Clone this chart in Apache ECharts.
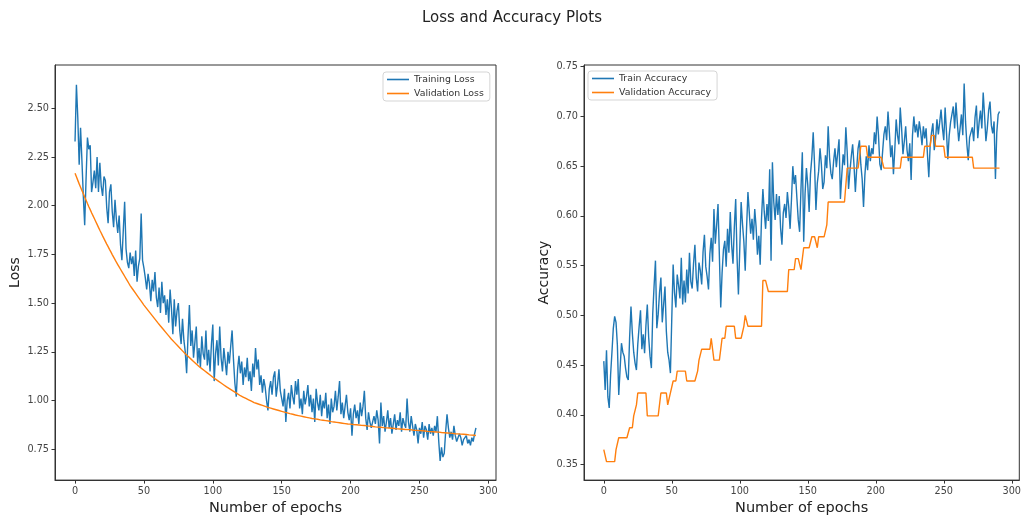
<!DOCTYPE html>
<html>
<head>
<meta charset="utf-8">
<script src="https://cdn.jsdelivr.net/npm/echarts@6/dist/echarts.min.js"></script>
<style>html,body{margin:0;padding:0;background:#fff}#c{width:1024px;height:521px}</style>
</head>
<body>
<div id="c"></div>
<script>
// ---- data (epochs 0..291) ----
const trainLoss = [
2.33,2.62,2.45,2.21,2.40,2.23,2.05,1.90,2.14,2.35,
2.29,2.31,2.07,2.12,2.18,2.09,2.25,2.07,2.22,2.10,
2.05,2.15,2.13,1.99,1.91,2.07,2.11,1.97,1.89,2.03,
1.93,1.86,1.95,1.80,1.72,1.87,2.02,1.78,1.71,1.68,
1.76,1.70,1.74,1.64,1.77,1.61,1.69,1.73,1.96,1.72,
1.68,1.63,1.57,1.65,1.60,1.51,1.62,1.56,1.66,1.53,
1.48,1.58,1.45,1.61,1.50,1.54,1.44,1.52,1.40,1.57,
1.47,1.34,1.52,1.38,1.46,1.50,1.36,1.29,1.42,1.31,
1.25,1.14,1.33,1.49,1.28,1.36,1.22,1.30,1.38,1.19,
1.27,1.17,1.33,1.24,1.21,1.36,1.18,1.26,1.15,1.29,
1.39,1.10,1.24,1.31,1.18,1.38,1.22,1.15,1.27,1.20,
1.13,1.25,1.19,1.28,1.36,1.21,1.09,1.02,1.16,1.23,
1.14,1.20,1.08,1.17,1.12,1.22,1.10,1.15,1.05,1.19,
1.12,1.27,1.16,1.21,1.08,1.13,1.04,1.11,1.07,1.00,
0.95,1.06,1.10,1.03,1.12,1.15,1.02,1.08,1.16,1.05,
1.01,0.97,1.06,0.89,1.00,1.04,0.96,1.08,1.02,0.98,
1.10,1.03,1.11,0.96,1.01,0.93,1.05,0.98,1.02,1.08,
0.97,1.03,0.94,1.01,0.89,1.06,0.99,0.95,1.03,0.92,
1.00,0.96,1.04,0.91,0.98,0.88,1.01,0.94,0.97,1.05,
0.95,1.02,1.10,0.93,0.99,0.91,0.97,1.03,0.94,0.90,
0.96,0.82,0.93,0.98,0.91,0.95,0.88,0.99,0.92,0.97,
1.05,0.91,0.85,0.94,0.89,0.86,0.85,0.92,0.88,0.95,
0.90,0.78,0.99,0.87,0.92,0.84,0.89,0.95,0.86,0.91,
0.83,0.88,0.93,0.85,0.90,0.87,0.94,0.84,0.91,0.88,
0.86,1.01,0.89,0.84,0.92,0.87,0.82,0.88,0.85,0.78,
0.86,0.83,0.89,0.81,0.87,0.85,0.80,0.88,0.83,0.86,
0.82,0.87,0.84,0.92,0.79,0.69,0.76,0.71,0.73,0.84,
0.93,0.86,0.81,0.84,0.80,0.87,0.82,0.79,0.78,0.83,
0.81,0.77,0.80,0.79,0.82,0.78,0.80,0.77,0.81,0.79,
0.83,0.86
];
const valLoss = [
2.166,2.148,2.130,2.112,2.095,2.078,2.061,2.044,2.028,2.011,
1.995,1.980,1.964,1.949,1.934,1.919,1.904,1.889,1.874,1.860,
1.845,1.831,1.817,1.803,1.790,1.776,1.763,1.749,1.736,1.723,
1.710,1.698,1.686,1.674,1.662,1.650,1.638,1.626,1.614,1.602,
1.590,1.580,1.570,1.560,1.550,1.540,1.530,1.520,1.510,1.500,
1.490,1.481,1.472,1.463,1.454,1.445,1.436,1.427,1.418,1.409,
1.400,1.391,1.383,1.374,1.366,1.357,1.349,1.340,1.332,1.323,
1.315,1.308,1.300,1.293,1.285,1.278,1.270,1.263,1.255,1.248,
1.240,1.233,1.227,1.220,1.214,1.207,1.201,1.194,1.188,1.181,
1.175,1.169,1.164,1.158,1.153,1.147,1.142,1.136,1.131,1.125,
1.120,1.115,1.110,1.105,1.100,1.095,1.090,1.085,1.080,1.075,
1.070,1.065,1.061,1.056,1.052,1.047,1.043,1.038,1.034,1.029,
1.025,1.021,1.018,1.014,1.011,1.007,1.004,1.000,0.997,0.993,
0.990,0.987,0.985,0.982,0.980,0.977,0.975,0.972,0.970,0.967,
0.965,0.963,0.961,0.959,0.957,0.955,0.953,0.951,0.949,0.947,
0.945,0.943,0.941,0.939,0.937,0.935,0.933,0.931,0.930,0.928,
0.926,0.924,0.923,0.921,0.920,0.918,0.917,0.915,0.914,0.912,
0.911,0.910,0.908,0.907,0.906,0.905,0.904,0.902,0.901,0.900,
0.899,0.898,0.897,0.896,0.895,0.894,0.892,0.891,0.890,0.889,
0.888,0.887,0.886,0.885,0.884,0.883,0.882,0.881,0.880,0.880,
0.879,0.878,0.877,0.877,0.876,0.875,0.875,0.874,0.873,0.873,
0.872,0.871,0.870,0.869,0.869,0.868,0.867,0.866,0.865,0.865,
0.864,0.863,0.863,0.862,0.861,0.861,0.860,0.859,0.859,0.858,
0.858,0.857,0.857,0.856,0.855,0.855,0.854,0.854,0.853,0.853,
0.852,0.851,0.851,0.850,0.850,0.849,0.848,0.848,0.847,0.847,
0.846,0.845,0.845,0.844,0.844,0.843,0.842,0.842,0.841,0.841,
0.840,0.839,0.839,0.838,0.838,0.837,0.836,0.836,0.835,0.835,
0.834,0.833,0.833,0.832,0.832,0.831,0.830,0.830,0.829,0.829,
0.828,0.827,0.827,0.826,0.826,0.825,0.824,0.824,0.823,0.823,
0.822,0.821
];
const trainAcc = [
0.454,0.425,0.465,0.418,0.407,0.440,0.463,0.487,0.499,0.493,
0.470,0.420,0.446,0.472,0.463,0.459,0.447,0.438,0.435,0.478,
0.509,0.482,0.463,0.452,0.445,0.471,0.489,0.505,0.466,0.481,
0.462,0.490,0.511,0.478,0.459,0.447,0.502,0.530,0.555,0.487,
0.501,0.523,0.538,0.493,0.511,0.529,0.484,0.463,0.455,0.442,
0.497,0.551,0.523,0.508,0.541,0.530,0.517,0.558,0.511,0.535,
0.513,0.546,0.522,0.563,0.534,0.527,0.552,0.571,0.538,0.524,
0.553,0.545,0.531,0.564,0.581,0.549,0.539,0.526,0.562,0.578,
0.554,0.607,0.572,0.591,0.612,0.560,0.508,0.543,0.566,0.575,
0.549,0.587,0.563,0.604,0.571,0.552,0.589,0.617,0.558,0.521,
0.567,0.614,0.592,0.574,0.545,0.588,0.624,0.603,0.582,0.597,
0.576,0.607,0.589,0.561,0.580,0.551,0.598,0.627,0.604,0.587,
0.612,0.595,0.647,0.555,0.654,0.614,0.596,0.622,0.601,0.620,
0.588,0.571,0.603,0.612,0.598,0.624,0.609,0.587,0.616,0.650,
0.632,0.641,0.618,0.596,0.584,0.627,0.664,0.574,0.622,0.648,
0.631,0.604,0.642,0.659,0.684,0.651,0.606,0.633,0.645,0.668,
0.652,0.627,0.634,0.661,0.648,0.690,0.659,0.643,0.637,0.655,
0.668,0.649,0.663,0.677,0.617,0.641,0.662,0.651,0.689,0.664,
0.627,0.645,0.660,0.672,0.651,0.624,0.648,0.668,0.676,0.652,
0.637,0.609,0.641,0.660,0.646,0.671,0.655,0.668,0.662,0.684,
0.672,0.700,0.681,0.652,0.646,0.664,0.682,0.690,0.676,0.705,
0.684,0.659,0.671,0.642,0.667,0.697,0.681,0.672,0.709,0.688,
0.662,0.675,0.690,0.666,0.655,0.673,0.636,0.681,0.700,0.684,
0.692,0.679,0.695,0.685,0.671,0.690,0.678,0.688,0.662,0.639,
0.671,0.684,0.693,0.666,0.678,0.697,0.682,0.694,0.707,0.689,
0.676,0.709,0.684,0.657,0.681,0.694,0.702,0.710,0.688,0.714,
0.693,0.675,0.688,0.702,0.681,0.733,0.695,0.672,0.656,0.679,
0.681,0.689,0.675,0.699,0.711,0.678,0.694,0.706,0.688,0.724,
0.701,0.675,0.688,0.706,0.715,0.691,0.683,0.695,0.637,0.684,
0.702,0.705
];
const valAcc = [
0.365,0.365,0.353,0.353,0.353,0.353,0.353,0.353,0.353,0.365,
0.365,0.377,0.377,0.377,0.377,0.377,0.377,0.377,0.377,0.387,
0.387,0.387,0.399,0.399,0.410,0.422,0.422,0.422,0.422,0.422,
0.422,0.422,0.399,0.399,0.399,0.399,0.399,0.399,0.399,0.399,
0.399,0.399,0.422,0.422,0.422,0.422,0.422,0.410,0.410,0.422,
0.422,0.434,0.434,0.434,0.444,0.444,0.444,0.444,0.444,0.444,
0.444,0.434,0.434,0.434,0.434,0.434,0.434,0.434,0.434,0.444,
0.455,0.455,0.466,0.466,0.466,0.466,0.466,0.466,0.466,0.477,
0.477,0.455,0.455,0.455,0.455,0.455,0.455,0.477,0.477,0.477,
0.489,0.489,0.489,0.489,0.489,0.489,0.489,0.477,0.477,0.477,
0.477,0.477,0.477,0.489,0.500,0.500,0.489,0.489,0.489,0.489,
0.489,0.489,0.489,0.489,0.489,0.489,0.489,0.535,0.535,0.535,
0.535,0.524,0.524,0.524,0.524,0.524,0.524,0.524,0.524,0.524,
0.524,0.524,0.524,0.524,0.524,0.524,0.546,0.546,0.546,0.546,
0.546,0.557,0.557,0.557,0.557,0.546,0.546,0.568,0.568,0.568,
0.568,0.568,0.568,0.579,0.579,0.579,0.579,0.568,0.579,0.579,
0.579,0.579,0.579,0.579,0.591,0.614,0.614,0.614,0.614,0.614,
0.614,0.614,0.614,0.614,0.614,0.614,0.614,0.614,0.614,0.648,
0.648,0.648,0.648,0.648,0.648,0.648,0.648,0.648,0.648,0.670,
0.670,0.670,0.670,0.670,0.659,0.659,0.659,0.659,0.659,0.659,
0.659,0.659,0.659,0.659,0.659,0.659,0.648,0.648,0.648,0.648,
0.648,0.648,0.648,0.648,0.648,0.648,0.648,0.648,0.648,0.659,
0.659,0.659,0.659,0.659,0.659,0.659,0.659,0.659,0.659,0.659,
0.659,0.659,0.659,0.659,0.659,0.659,0.670,0.670,0.670,0.670,
0.670,0.681,0.681,0.681,0.670,0.670,0.670,0.670,0.670,0.670,
0.670,0.659,0.659,0.659,0.659,0.659,0.659,0.659,0.659,0.659,
0.659,0.659,0.659,0.659,0.659,0.659,0.659,0.659,0.659,0.659,
0.659,0.659,0.648,0.648,0.648,0.648,0.648,0.648,0.648,0.648,
0.648,0.648,0.648,0.648,0.648,0.648,0.648,0.648,0.648,0.648,
0.648,0.648
];
const xTicks = [0, 50, 100, 150, 200, 250, 300];
const lossTicks = [0.75, 1.00, 1.25, 1.50, 1.75, 2.00, 2.25, 2.50];
const accTicks = [0.35, 0.40, 0.45, 0.50, 0.55, 0.60, 0.65, 0.70, 0.75];
const titleText = 'Loss and Accuracy Plots';
const xName = 'Number of epochs';

[trainLoss, valLoss, trainAcc, valAcc].forEach(function (a, k) {
  if (a.length !== 292) throw new Error('array ' + k + ' has length ' + a.length);
});

const pairs = arr => arr.map((v, i) => [i, v]);
const FONT = 'DejaVu Sans';
const BLUE = '#1f77b4', ORANGE = '#ff7f0e';

function xAxisCfg(gi) {
  return {
    type: 'value', gridIndex: gi, min: -14.55, max: 305.55,
    splitLine: { show: false },
    axisLine: { show: true, onZero: false, lineStyle: { color: '#333', width: 1 } },
    axisTick: { show: true, length: 3.5, customValues: xTicks, lineStyle: { color: '#333' } },
    axisLabel: { customValues: xTicks, fontSize: 9.7, color: '#444', margin: 6, fontFamily: FONT },
    name: xName, nameLocation: 'middle', nameGap: 20,
    nameTextStyle: { fontSize: 14.5, color: '#222', fontFamily: FONT }
  };
}
function yAxisCfg(gi, min, max, ticks, name) {
  return {
    type: 'value', gridIndex: gi, min: min, max: max,
    splitLine: { show: false },
    axisLine: { show: true, onZero: false, lineStyle: { color: '#333', width: 1 } },
    axisTick: { show: true, length: 3.5, customValues: ticks, lineStyle: { color: '#333' } },
    axisLabel: { customValues: ticks, fontSize: 9.7, color: '#444', margin: 6, fontFamily: FONT,
      formatter: v => Number(v).toFixed(2) },
    name: name, nameLocation: 'middle', nameGap: 33, nameRotate: 90,
    nameTextStyle: { fontSize: 14, color: '#222', fontFamily: FONT }
  };
}
function legendCfg(left, top, names) {
  return {
    left: left, top: top, orient: 'vertical', data: names, icon: 'rect',
    itemWidth: 22, itemHeight: 1.6, itemGap: 3, selectedMode: false,
    textStyle: { fontSize: 9.4, color: '#333', fontFamily: FONT, lineHeight: 11 },
    backgroundColor: 'rgba(255,255,255,0.85)', borderColor: '#d5d5d5', borderWidth: 1,
    borderRadius: 3, padding: [2, 6, 2, 4]
  };
}
function lineSeries(name, arr, gi, color) {
  return {
    type: 'line', name: name, xAxisIndex: gi, yAxisIndex: gi, data: pairs(arr),
    showSymbol: false, symbol: 'none', color: color,
    lineStyle: { width: 1.4, color: color }, animation: false
  };
}

const chart = echarts.init(document.getElementById('c'), null, { renderer: 'canvas' });
chart.setOption({
  animation: false,
  backgroundColor: '#fff',
  title: { text: titleText, left: 'center', top: 6,
    textStyle: { fontSize: 15, fontWeight: 'normal', color: '#222', fontFamily: FONT } },
  grid: [
    { left: 55, top: 65, width: 441, height: 419, show: true, borderColor: '#333', borderWidth: 1 },
    { left: 584, top: 65, width: 439, height: 420, show: true, borderColor: '#333', borderWidth: 1 }
  ],
  xAxis: [xAxisCfg(0), xAxisCfg(1)],
  yAxis: [
    yAxisCfg(0, 0.592, 2.722, lossTicks, 'Loss'),
    yAxisCfg(1, 0.3344, 0.7517, accTicks, 'Accuracy')
  ],
  legend: [
    legendCfg(383, 72, ['Training Loss', 'Validation Loss']),
    legendCfg(588, 71, ['Train Accuracy', 'Validation Accuracy'])
  ],
  series: [
    lineSeries('Training Loss', trainLoss, 0, BLUE),
    lineSeries('Validation Loss', valLoss, 0, ORANGE),
    lineSeries('Train Accuracy', trainAcc, 1, BLUE),
    lineSeries('Validation Accuracy', valAcc, 1, ORANGE)
  ]
});
</script>
</body>
</html>
